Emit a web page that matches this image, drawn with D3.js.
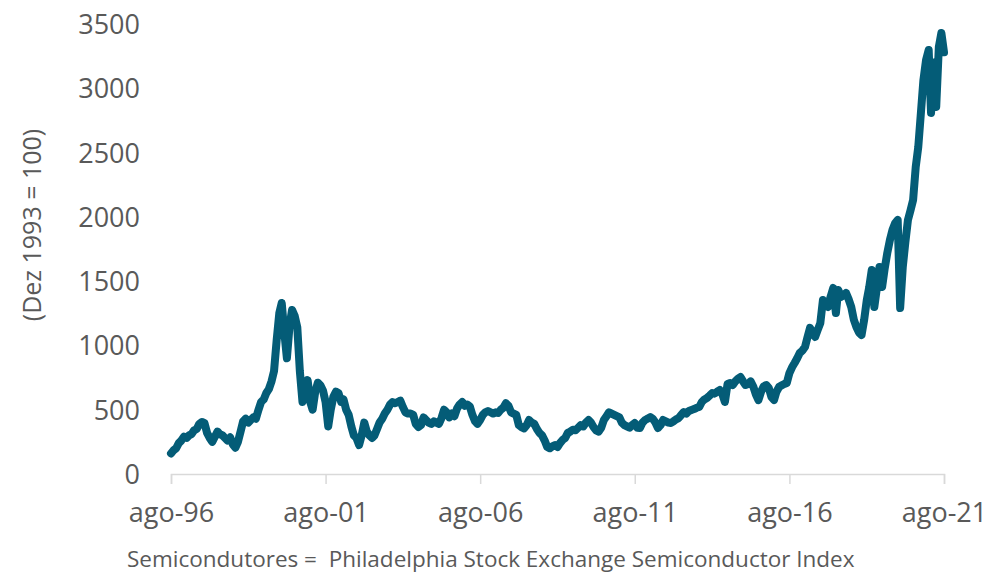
<!DOCTYPE html>
<html>
<head>
<meta charset="utf-8">
<script src="https://cdn.jsdelivr.net/npm/d3@7"></script>
<style>
  body { margin: 0; background: #fff; }
  text { font-family: "Open Sans", "Noto Sans", sans-serif; fill: #595959; }
</style>
</head>
<body>
<div id="chart"></div>
<script>
// Monthly index values, Dez 1993 = 100 (ago-96 .. ago-21)
var startMonth = "1996-08";
var values = [
  160, 185, 200, 240, 260,                                              // 1996
  290, 280, 300, 310, 340, 350, 390, 405, 395, 320, 280, 250,           // 1997
  290, 330, 310, 300, 280, 260, 285, 230, 205, 250, 330, 410,           // 1998
  430, 400, 420, 440, 430, 500, 560, 580, 630, 660, 720, 800,           // 1999
  1040, 1250, 1330, 1100, 900, 1150, 1276, 1230, 1140, 800, 560, 620,   // 2000
  730, 560, 500, 640, 710, 690, 650, 560, 370, 500, 600, 640,           // 2001
  630, 560, 580, 500, 460, 370, 300, 280, 225, 300, 400, 330,           // 2002
  300, 280, 300, 350, 400, 430, 470, 500, 540, 560, 550, 560,           // 2003
  570, 520, 480, 470, 470, 460, 390, 365, 380, 440, 420, 400,           // 2004
  390, 410, 400, 390, 435, 500, 480, 440, 470, 450, 510, 540,           // 2005
  560, 530, 540, 525, 460, 410, 390, 420, 460, 480, 490, 480,           // 2006
  470, 480, 475, 500, 515, 550, 530, 480, 470, 460, 380, 365,           // 2007
  355, 380, 420, 400, 390, 350, 320, 300, 260, 210, 200, 215,           // 2008
  225, 210, 240, 265, 280, 320, 330, 345, 340, 360, 380, 370,           // 2009
  400, 420, 400, 365, 340, 330, 360, 420, 450, 480, 470, 460,           // 2010
  450, 440, 400, 380, 370, 360, 380, 397, 360, 358, 400, 420,           // 2011
  430, 443, 430, 400, 358, 380, 420, 410, 400, 397, 410, 425,           // 2012
  435, 460, 482, 470, 490, 498, 505, 515, 521, 560, 580, 591,           // 2013
  610, 630, 625, 640, 653, 620, 560, 700, 708, 692, 720, 740,           // 2014
  754, 720, 692, 700, 720, 680, 620, 575, 640, 680, 692, 670,           // 2015
  600, 575, 640, 677, 690, 700, 708, 785, 830, 863, 900, 941,           // 2016
  960, 988, 1060, 1136, 1100, 1066, 1120, 1174, 1353, 1320, 1299, 1380, // 2017
  1447, 1252, 1431, 1377, 1390, 1408, 1360, 1300, 1200, 1143, 1100, 1081, // 2018
  1200, 1353, 1450, 1587, 1299, 1450, 1610, 1455, 1600, 1719, 1820, 1898, // 2019
  1950, 1976, 1291, 1610, 1800, 1976, 2050, 2131, 2388, 2543, 2808, 3065, // 2020
  3220, 3298, 2808, 3200, 2855, 3321, 3430, 3280                        // 2021
];
var xTickDates = ["1996-08", "2001-08", "2006-08", "2011-08", "2016-08", "2021-08"];
var xTickLabels = ["ago-96", "ago-01", "ago-06", "ago-11", "ago-16", "ago-21"];
var yTicks = [0, 500, 1000, 1500, 2000, 2500, 3000, 3500];
var yTitle = "(Dez 1993 = 100)";
var caption = "Semicondutores =  Philadelphia Stock Exchange Semiconductor Index";

var width = 991;
var height = 576;
var margin = { top: 24, right: 47, bottom: 102, left: 171 };

var parseMonth = d3.timeParse("%Y-%m");
var start = parseMonth(startMonth);
var data = values.map(function (v, i) {
  return { date: d3.timeMonth.offset(start, i), value: v };
});

var svg = d3.select("#chart")
  .append("svg")
  .attr("width", width)
  .attr("height", height);

var x = d3.scaleTime()
  .domain([parseMonth(xTickDates[0]), parseMonth(xTickDates[xTickDates.length - 1])])
  .range([margin.left, width - margin.right]);

var y = d3.scaleLinear()
  .domain([0, 3500])
  .range([height - margin.bottom, margin.top]);

// y axis: labels only
var yAxis = svg.append("g")
  .attr("transform", "translate(" + (margin.left - 31) + ",0)")
  .call(d3.axisLeft(y).tickValues(yTicks).tickFormat(d3.format("d")).tickSize(0).tickPadding(0));
yAxis.select(".domain").remove();
yAxis.selectAll("text")
  .style("font-size", "27px")
  .attr("dy", "0.35em");

// x axis: light grey line with ticks below
var xAxis = svg.append("g")
  .attr("transform", "translate(0," + (height - margin.bottom) + ")")
  .call(d3.axisBottom(x)
    .tickValues(xTickDates.map(parseMonth))
    .tickFormat(function (d, i) { return xTickLabels[i]; })
    .tickSizeOuter(0)
    .tickSize(10)
    .tickPadding(19));
xAxis.select(".domain").attr("stroke", "#d9d9d9").attr("stroke-width", 1.5);
xAxis.selectAll(".tick line").attr("stroke", "#d9d9d9").attr("stroke-width", 1.5);
xAxis.selectAll("text").style("font-size", "27px");

// the index line
var line = d3.line()
  .x(function (d) { return x(d.date); })
  .y(function (d) { return y(d.value); });

svg.append("path")
  .datum(data)
  .attr("fill", "none")
  .attr("stroke", "#045c77")
  .attr("stroke-width", 8)
  .attr("stroke-linejoin", "round")
  .attr("stroke-linecap", "round")
  .attr("d", line);

// y title
svg.append("text")
  .attr("transform", "translate(32,225)rotate(-90)")
  .attr("text-anchor", "middle")
  .attr("dy", "0.35em")
  .style("font-size", "25px")
  .text(yTitle);

// caption
svg.append("text")
  .attr("x", 127)
  .attr("y", 567)
  .style("font-size", "22.5px")
  .style("white-space", "pre")
  .text(caption);
</script>
</body>
</html>
